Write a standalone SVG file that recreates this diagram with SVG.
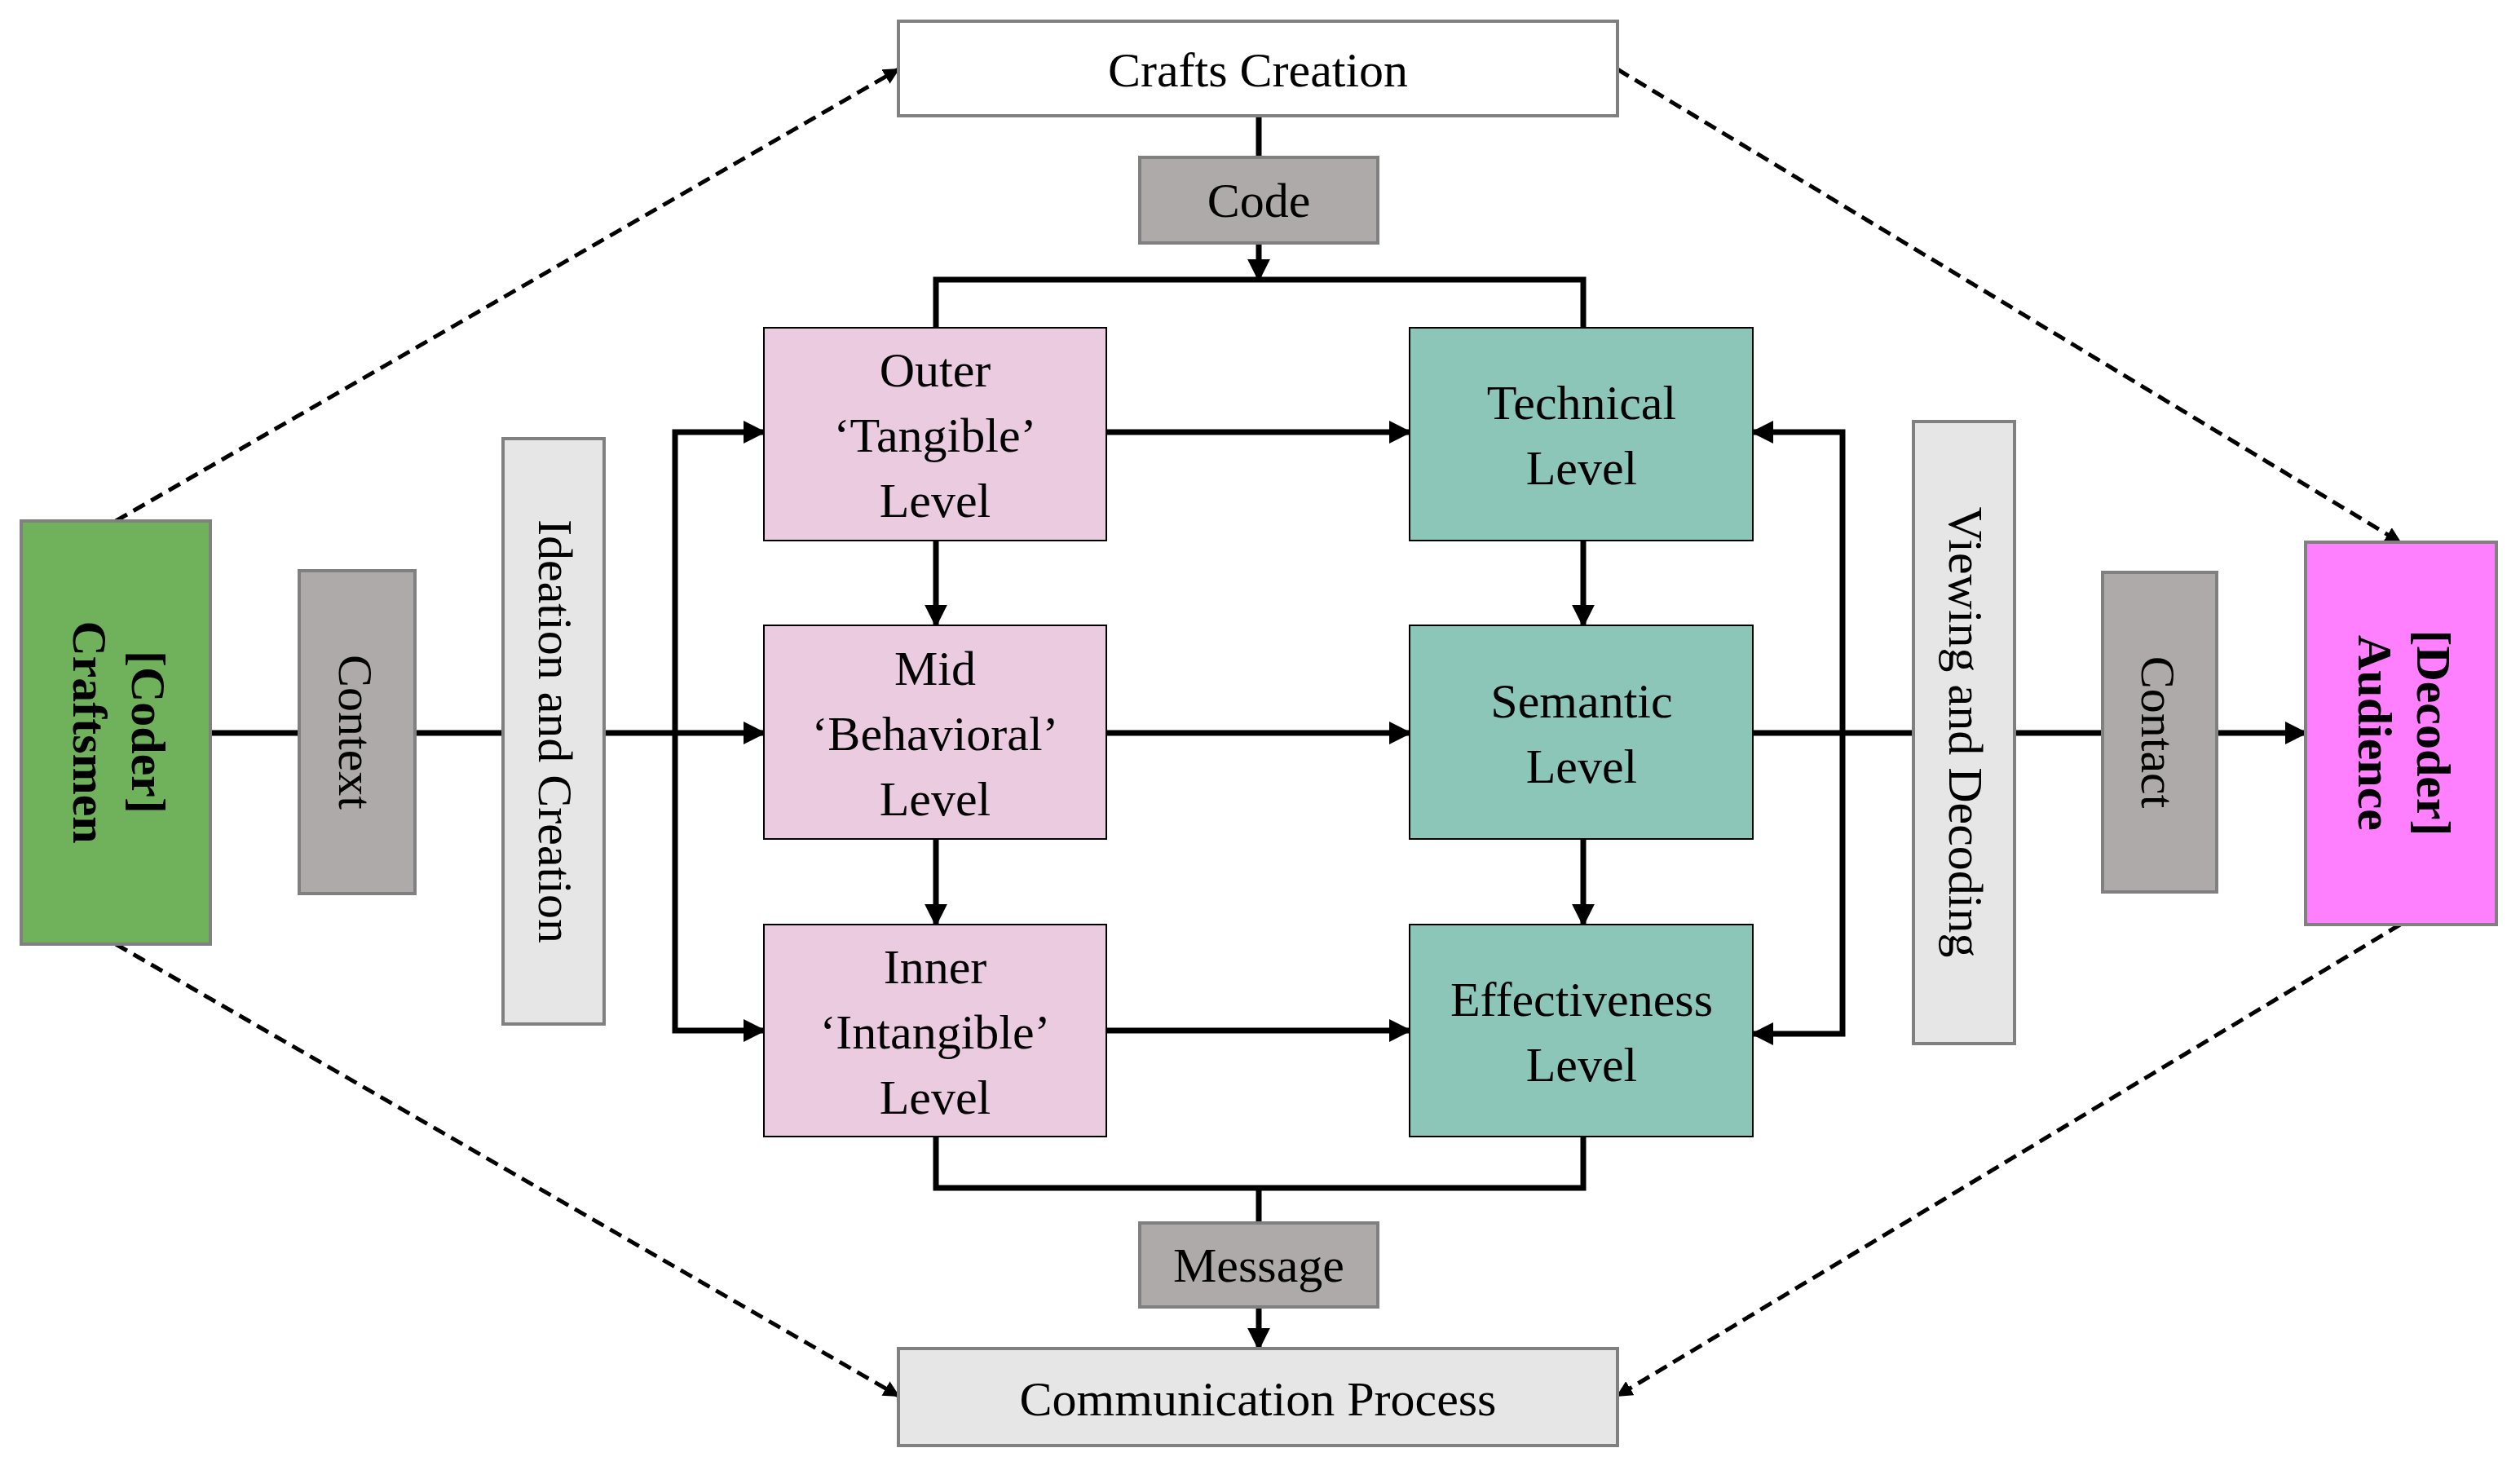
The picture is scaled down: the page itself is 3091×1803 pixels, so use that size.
<svg xmlns="http://www.w3.org/2000/svg" width="3091" height="1803" viewBox="0 0 3091 1803">
<defs>
<marker id="a" viewBox="0 0 10 10" refX="9" refY="5" markerWidth="4" markerHeight="4" orient="auto" markerUnits="strokeWidth"><path d="M0,0L10,5L0,10z" fill="#000"/></marker>
<style>
.b{stroke:#808080;stroke-width:4}
.t{font-family:"Liberation Serif",serif;font-size:60px;text-anchor:middle;fill:#000}
.c{stroke:#000;stroke-width:7;fill:none}
.d{stroke:#000;stroke-width:5;fill:none;stroke-dasharray:16,9}
</style>
</defs>
<rect width="3091" height="1803" fill="#fff"/>
<g id="connectors">
<path class="d" d="M142,639L1102,85" marker-end="url(#a)"/>
<path class="d" d="M142,1158L1102,1712" marker-end="url(#a)"/>
<path class="d" d="M1984,85L2944,665" marker-end="url(#a)"/>
<path class="d" d="M2944,1134L1984,1712" marker-end="url(#a)"/>
<path class="c" d="M1544,142V193"/>
<path class="c" d="M1544,298V343" marker-end="url(#a)"/>
<path class="c" d="M1148,402V343H1942V402"/>
<path class="c" d="M1148,1394V1457H1942V1394"/>
<path class="c" d="M1544,1457V1500"/>
<path class="c" d="M1544,1603V1654" marker-end="url(#a)"/>
<path class="c" d="M258,899H367M509,899H617M741,899H937" marker-end="url(#a)"/>
<path class="c" d="M828,899V530H937" marker-end="url(#a)"/>
<path class="c" d="M828,899V1264H937" marker-end="url(#a)"/>
<path class="c" d="M1357,530H1729" marker-end="url(#a)"/>
<path class="c" d="M1357,899H1729" marker-end="url(#a)"/>
<path class="c" d="M1357,1264H1729" marker-end="url(#a)"/>
<path class="c" d="M1148,663V767" marker-end="url(#a)"/>
<path class="c" d="M1148,1029V1134" marker-end="url(#a)"/>
<path class="c" d="M1942,663V767" marker-end="url(#a)"/>
<path class="c" d="M1942,1029V1134" marker-end="url(#a)"/>
<path class="c" d="M2150,899H2347M2471,899H2579M2719,899H2828" marker-end="url(#a)"/>
<path class="c" d="M2260,899V530H2150" marker-end="url(#a)"/>
<path class="c" d="M2260,899V1268H2150" marker-end="url(#a)"/>
</g>
<g id="crafts"><rect class="b" x="1102" y="26" width="882" height="116" fill="#fff"/><text class="t" x="1543" y="106" font-size="72">Crafts Creation</text></g>
<g id="code"><rect class="b" x="1398" y="193" width="292" height="105" fill="#aeaaaa"/><text class="t" x="1544" y="266">Code</text></g>
<g id="outer"><rect x="937" y="402" width="420" height="261" fill="#eacbe0" stroke="#000" stroke-width="2"/><text class="t" x="1147" y="474">Outer</text><text class="t" x="1147" y="554">‘Tangible’</text><text class="t" x="1147" y="634">Level</text></g>
<g id="mid"><rect x="937" y="767" width="420" height="262" fill="#eacbe0" stroke="#000" stroke-width="2"/><text class="t" x="1147" y="840">Mid</text><text class="t" x="1147" y="920">‘Behavioral’</text><text class="t" x="1147" y="1000">Level</text></g>
<g id="inner"><rect x="937" y="1134" width="420" height="260" fill="#eacbe0" stroke="#000" stroke-width="2"/><text class="t" x="1147" y="1206">Inner</text><text class="t" x="1147" y="1286">‘Intangible’</text><text class="t" x="1147" y="1366">Level</text></g>
<g id="technical"><rect x="1729" y="402" width="421" height="261" fill="#8cc6b9" stroke="#000" stroke-width="2"/><text class="t" x="1940" y="514">Technical</text><text class="t" x="1940" y="594">Level</text></g>
<g id="semantic"><rect x="1729" y="767" width="421" height="262" fill="#8cc6b9" stroke="#000" stroke-width="2"/><text class="t" x="1940" y="880">Semantic</text><text class="t" x="1940" y="960">Level</text></g>
<g id="effectiveness"><rect x="1729" y="1134" width="421" height="260" fill="#8cc6b9" stroke="#000" stroke-width="2"/><text class="t" x="1940" y="1246">Effectiveness</text><text class="t" x="1940" y="1326">Level</text></g>
<g id="message"><rect class="b" x="1398" y="1500" width="292" height="103" fill="#aeaaaa"/><text class="t" x="1544" y="1572">Message</text></g>
<g id="communication"><rect class="b" x="1102" y="1654" width="882" height="119" fill="#e6e6e6"/><text class="t" x="1543" y="1736" font-size="72">Communication Process</text></g>
<g id="craftsmen"><rect class="b" x="26" y="639" width="232" height="519" fill="#70b25c"/><text class="t" font-family="DejaVu Serif,serif" font-weight="bold" font-size="56" transform="translate(142,898) rotate(90)"><tspan x="0" y="-20">[Coder]</tspan><tspan x="0" y="52">Craftsmen</tspan></text></g>
<g id="context"><rect class="b" x="367" y="700" width="142" height="396" fill="#aeaaaa"/><text class="t" font-family="DejaVu Serif,serif" font-size="62" transform="translate(438,898) rotate(90)" y="22">Context</text></g>
<g id="ideation"><rect class="b" x="617" y="538" width="124" height="718" fill="#e6e6e6"/><text class="t" font-family="DejaVu Serif,serif" font-size="50" transform="translate(679,897) rotate(90)" y="18">Ideation and Creation</text></g>
<g id="viewing"><rect class="b" x="2347" y="517" width="124" height="763" fill="#e6e6e6"/><text class="t" font-family="DejaVu Serif,serif" font-size="50" transform="translate(2409,898) rotate(90)" y="18">Viewing and Decoding</text></g>
<g id="contact"><rect class="b" x="2579" y="702" width="140" height="392" fill="#aeaaaa"/><text class="t" font-family="DejaVu Serif,serif" font-size="62" transform="translate(2649,898) rotate(90)" y="22">Contact</text></g>
<g id="audience"><rect class="b" x="2828" y="665" width="234" height="469" fill="#ff80ff"/><text class="t" font-family="DejaVu Serif,serif" font-weight="bold" font-size="56" transform="translate(2945,899) rotate(90)"><tspan x="0" y="-20">[Decoder]</tspan><tspan x="0" y="52">Audience</tspan></text></g>
</svg>
